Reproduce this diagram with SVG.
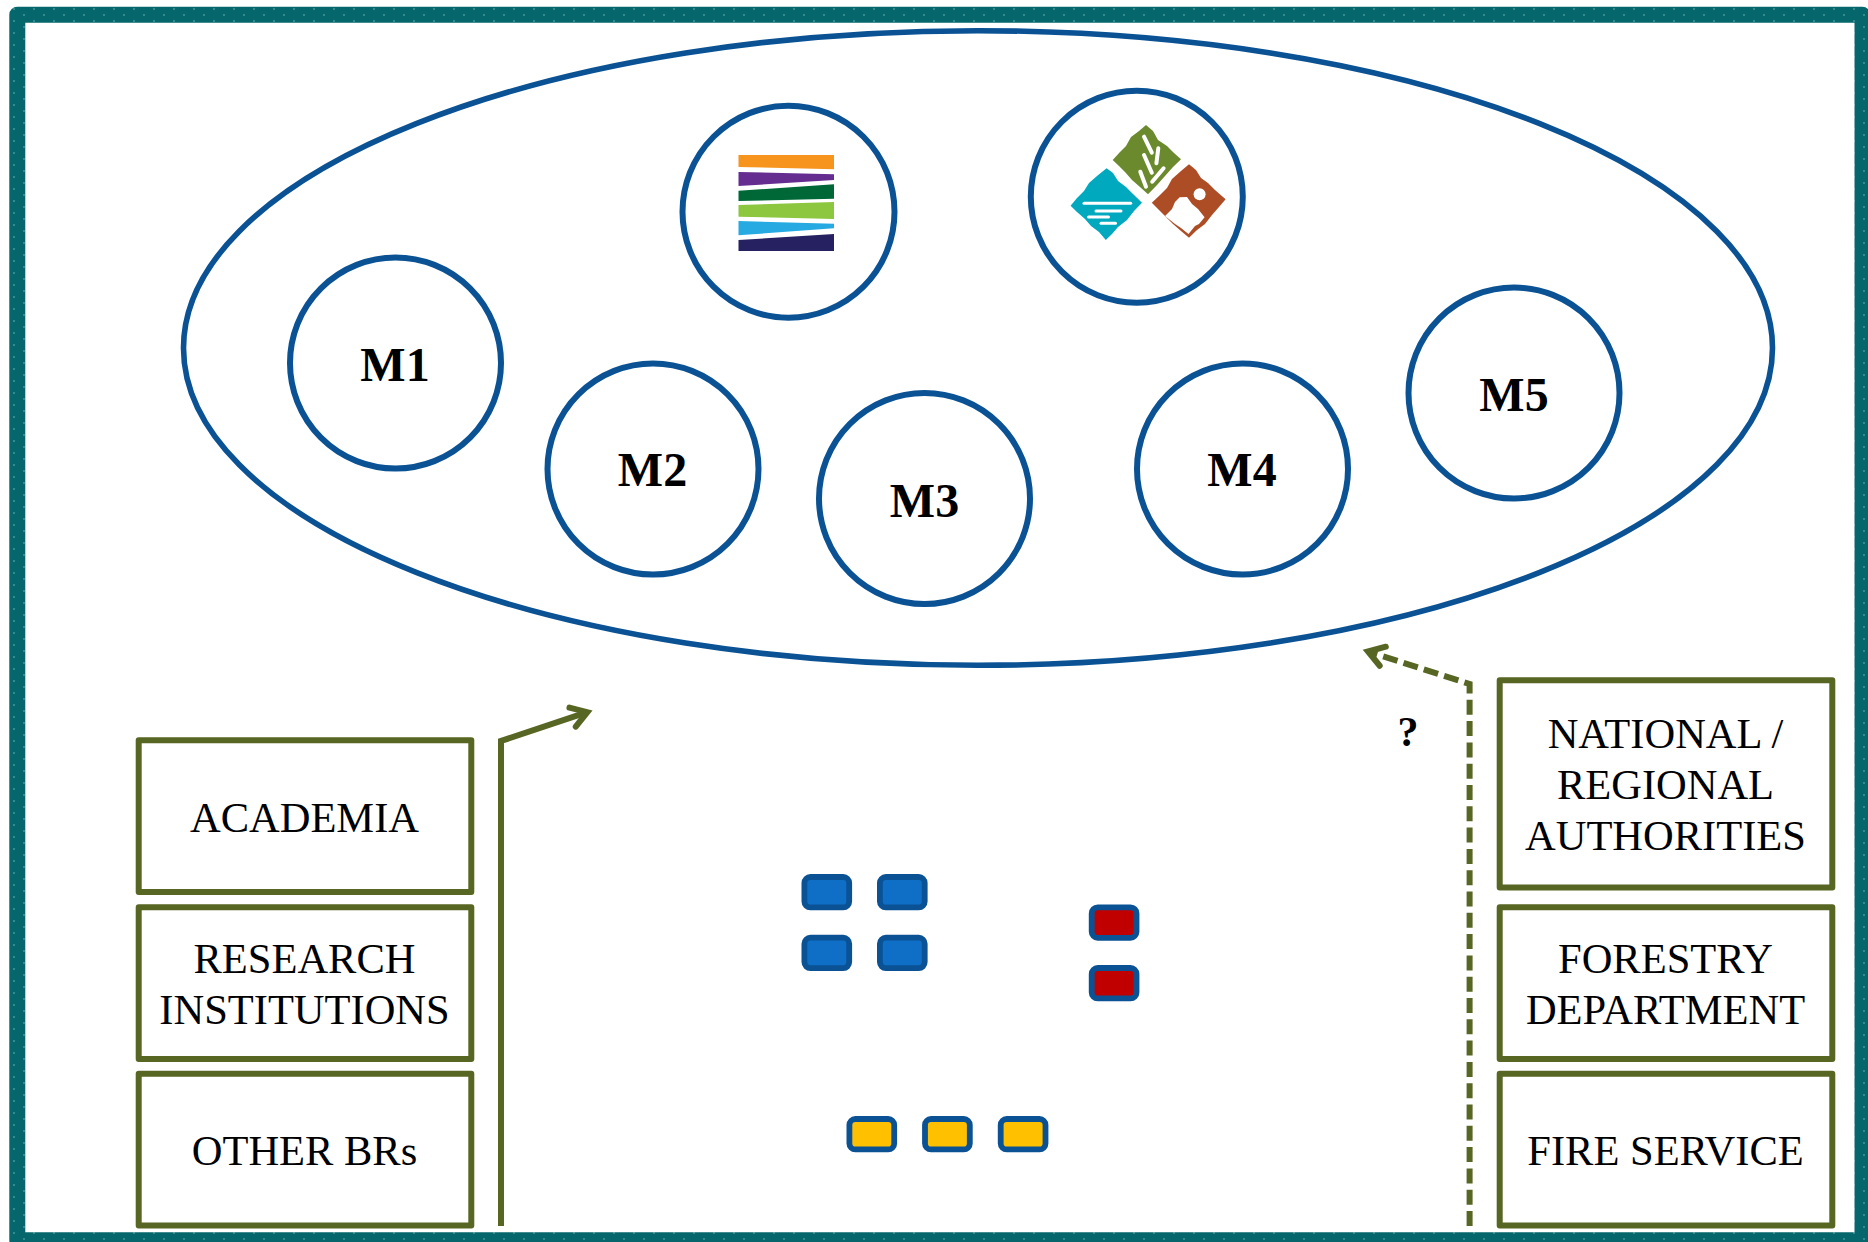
<svg xmlns="http://www.w3.org/2000/svg" width="1868" height="1242" viewBox="0 0 1868 1242">
<style>
.circle{fill:#fff;stroke:#0a5294;stroke-width:6}
.box{fill:#fff;stroke:#586624;stroke-width:6;stroke-linejoin:round}
.chip{stroke:#0a5294;stroke-width:5.8}
.blue{fill:#0f6fc6}.red{fill:#c00000}.yellow{fill:#ffc000}
.conn{fill:none;stroke:#586624;stroke-width:6;stroke-linejoin:miter}
.t{font-family:"Liberation Serif","Times New Roman",serif;font-size:42.5px;fill:#000;text-anchor:middle}
.m{font-family:"Liberation Serif","Times New Roman",serif;font-size:48px;font-weight:bold;fill:#000;text-anchor:middle}
.w{fill:none;stroke:#fff;stroke-linecap:round}
</style>
<defs>
<pattern id="dots" patternUnits="userSpaceOnUse" width="20" height="12">
<rect width="20" height="12" fill="#05666b"/>
<circle cx="4" cy="3" r="0.8" fill="#6fb8b6"/>
<circle cx="14" cy="9" r="0.8" fill="#6fb8b6"/>
</pattern>
<marker id="arrow" markerUnits="userSpaceOnUse" markerWidth="44" markerHeight="44" refX="30" refY="22" orient="auto">
<path d="M14.5,12 L30,22 L14.5,32" fill="none" stroke="#586624" stroke-width="6" stroke-linecap="round" stroke-linejoin="miter" stroke-miterlimit="6"/>
</marker>
</defs>
<rect width="1868" height="1242" fill="#fff"/>
<rect id="frame" x="17.3" y="14.7" width="1845.2" height="1225.6" fill="none" stroke="url(#dots)" stroke-width="16" stroke-linejoin="round"/>
<ellipse id="group-ellipse" cx="978" cy="348" rx="794.5" ry="317.3" fill="#fff" stroke="#0a5294" stroke-width="5.6"/>

<g id="connectors">
<path class="conn" d="M501,1226 V741 L587.3,712.2" marker-end="url(#arrow)"/>
<path class="conn" d="M1469.6,1226 V684 L1368,651.5" stroke-dasharray="15 6.3" marker-end="url(#arrow)"/>
</g>

<g id="logo1-node">
<circle class="circle" cx="788.5" cy="211.7" r="106"/>
<polygon fill="#f7941d" points="738.5,155 834,155 834,169.3 738.5,167"/>
<polygon fill="#662d91" points="738.5,172 834,174.3 834,180 738.5,186"/>
<polygon fill="#006837" points="738.5,190.7 834,184.3 834,198.7 738.5,201"/>
<polygon fill="#8dc63f" points="738.5,205 834,202 834,219 738.5,216.7"/>
<polygon fill="#27aae1" points="738.5,221 834,223.7 834,228.3 738.5,235.3"/>
<polygon fill="#262262" points="738.5,240 834,234 834,251 738.5,251"/>
</g>

<g id="logo2-node">
<circle class="circle" cx="1136.8" cy="196.7" r="106"/>
<polygon fill="#6b8a2e" points="1146,125 1153,131 1158,140 1167,146 1174,153 1181,159.3 1173,167 1165,176 1157,185 1148,194.3 1140,187 1132,180 1125,172 1119,166 1112.7,160 1120,152 1126,146 1131,137 1139,131"/>
<g class="w" stroke-width="4">
<line x1="1144" y1="136.7" x2="1151.8" y2="152.7"/>
<line x1="1158.3" y1="148.3" x2="1156.4" y2="163.3"/>
<line x1="1144" y1="155" x2="1151.8" y2="172.7"/>
<line x1="1140.3" y1="171.7" x2="1146" y2="186.7"/>
<line x1="1163.6" y1="168.3" x2="1152.2" y2="181.7"/>
</g>
<polygon fill="#00a9be" points="1106.6,168.3 1113,173 1118,181 1126,187 1133,194 1142,202.7 1134,211 1127,220 1118,227 1112,234 1105.8,240 1099,232 1091,226 1085,219 1077,212 1070.6,205.7 1077,198 1084,191 1089,183 1097,176"/>
<g class="w" stroke-width="3">
<line x1="1084" y1="203.3" x2="1130.7" y2="203.3"/>
<line x1="1096" y1="211" x2="1121" y2="211"/>
<line x1="1088.6" y1="217" x2="1108.5" y2="217"/>
<line x1="1101" y1="223.3" x2="1115.5" y2="223.3"/>
</g>
<polygon fill="#ad4d26" points="1189,164.3 1196,170 1201,178 1208,183 1215,190 1225.6,199.3 1219,207 1212,215 1205,224 1197,230 1189,237.7 1181,231 1173,224 1166,217 1158,209 1151.8,202.7 1159,196 1167,188 1172,179 1181,171"/>
<polygon fill="#fff" points="1179.7,197.3 1187,197 1192,204 1198,209 1204.6,217.3 1199,224 1195,226 1188.5,234 1181,228 1175,224 1165,216 1172,209 1175,202"/>
<circle cx="1199.6" cy="194.3" r="6" fill="#fff"/>
</g>

<g id="M1"><circle class="circle" cx="395.5" cy="363" r="105.5"/><text class="m" x="395" y="380.5">M1</text></g>
<g id="M2"><circle class="circle" cx="653" cy="469" r="105.5"/><text class="m" x="652.5" y="486">M2</text></g>
<g id="M3"><circle class="circle" cx="924.5" cy="498.5" r="105.5"/><text class="m" x="924.5" y="517">M3</text></g>
<g id="M4"><circle class="circle" cx="1242.5" cy="469" r="105.5"/><text class="m" x="1242" y="486">M4</text></g>
<g id="M5"><circle class="circle" cx="1514" cy="393" r="105.5"/><text class="m" x="1514" y="411">M5</text></g>

<g id="academia"><rect class="box" x="138.7" y="740.3" width="332.6" height="151.7"/><text class="t" x="304.5" y="832">ACADEMIA</text></g>
<g id="research"><rect class="box" x="138.7" y="907.3" width="332.6" height="151.7"/><text class="t"><tspan x="304.5" y="973">RESEARCH</tspan><tspan x="304.5" y="1024">INSTITUTIONS</tspan></text></g>
<g id="other-brs"><rect class="box" x="138.7" y="1073.8" width="332.6" height="151.7"/><text class="t" x="304.5" y="1165">OTHER BRs</text></g>

<g id="authorities"><rect class="box" x="1499.7" y="680.2" width="332.6" height="207.4"/><text class="t"><tspan x="1665.5" y="747.5">NATIONAL /</tspan><tspan x="1665.5" y="798.8">REGIONAL</tspan><tspan x="1665.5" y="850.3">AUTHORITIES</tspan></text></g>
<g id="forestry"><rect class="box" x="1499.7" y="907.3" width="332.6" height="151.7"/><text class="t"><tspan x="1665.5" y="973">FORESTRY</tspan><tspan x="1665.5" y="1024">DEPARTMENT</tspan></text></g>
<g id="fire"><rect class="box" x="1499.7" y="1073.8" width="332.6" height="151.7"/><text class="t" x="1665.5" y="1165">FIRE SERVICE</text></g>

<g id="question"><text class="m" style="font-size:42px" x="1408" y="746">?</text></g>

<g id="chip-b1"><rect class="chip blue" x="804.4" y="877" width="44.8" height="30.4" rx="6"/></g>
<g id="chip-b2"><rect class="chip blue" x="879.9" y="877" width="44.8" height="30.4" rx="6"/></g>
<g id="chip-b3"><rect class="chip blue" x="804.4" y="937.7" width="44.8" height="30.4" rx="6"/></g>
<g id="chip-b4"><rect class="chip blue" x="879.9" y="937.7" width="44.8" height="30.4" rx="6"/></g>
<g id="chip-r1"><rect class="chip red" x="1091.7" y="907.4" width="44.8" height="30.4" rx="6"/></g>
<g id="chip-r2"><rect class="chip red" x="1091.7" y="968" width="44.8" height="30.4" rx="6"/></g>
<g id="chip-y1"><rect class="chip yellow" x="849.4" y="1119" width="44.8" height="30.4" rx="6"/></g>
<g id="chip-y2"><rect class="chip yellow" x="925" y="1119" width="44.8" height="30.4" rx="6"/></g>
<g id="chip-y3"><rect class="chip yellow" x="1000.7" y="1119" width="44.8" height="30.4" rx="6"/></g>
</svg>
